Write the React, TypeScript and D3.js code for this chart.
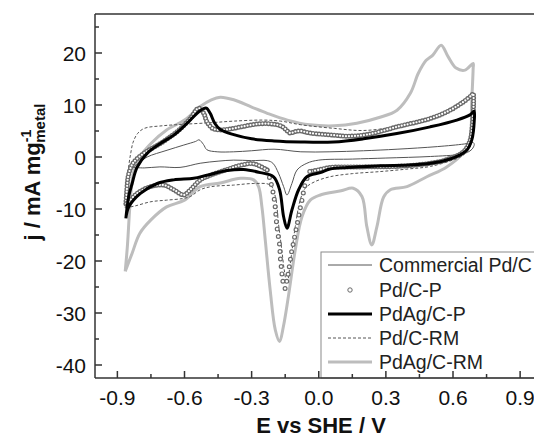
import React from "react";
import * as d3 from "d3";

// ---- data (E vs SHE / V, j / mA mg-1) ----
const xMajorTicks = [-0.9, -0.6, -0.3, 0.0, 0.3, 0.6, 0.9];
const xTickLabels = ["-0.9", "-0.6", "-0.3", "0.0", "0.3", "0.6", "0.9"];
const xMinorTicks = [-0.75, -0.45, -0.15, 0.15, 0.45, 0.75];
const yMajorTicks = [-40, -30, -20, -10, 0, 10, 20];
const yTickLabels = ["-40", "-30", "-20", "-10", "0", "10", "20"];
const yMinorTicks = [-35, -25, -15, -5, 5, 15, 25];

const seriesNames = ["Commercial Pd/C", "Pd/C-P", "PdAg/C-P", "Pd/C-RM", "PdAg/C-RM"];

const commercialPdC: [number, number][] = [
  [-0.83, -2.0], [-0.8, -1.0], [-0.767, 0], [-0.678, 1.3], [-0.603, 2.3], [-0.55, 3.0], [-0.535, 3.3],
  [-0.515, 2.4], [-0.5, 1.4], [-0.454, 1.0], [-0.38, 1.0], [-0.3, 1.2], [-0.2, 1.5], [-0.08, 1.0],
  [0.05, 1.0], [0.2, 1.2], [0.35, 1.5], [0.53, 2.0], [0.65, 2.5], [0.69, 2.8],
  [0.695, 2.4], [0.685, 1.5], [0.665, 0.9], [0.63, 0.5], [0.5, 0.1], [0.3, -0.2], [0.15, -0.4],
  [0.0, -0.6], [-0.053, -1.2], [-0.097, -2.5], [-0.12, -5.1], [-0.142, -7.3], [-0.157, -5.7],
  [-0.18, -3.1], [-0.205, -1.2], [-0.23, -0.7], [-0.3, -0.7], [-0.38, -0.6], [-0.45, -0.8],
  [-0.53, -1.2], [-0.62, -2.0], [-0.71, -1.9], [-0.78, -2.1], [-0.83, -2.0],
];

const pdCP: [number, number][] = [
  [-0.862, -9], [-0.858, -6.5], [-0.852, -3.8], [-0.84, -2], [-0.827, -1.0], [-0.782, 0.7],
  [-0.708, 2.6], [-0.633, 4.9], [-0.574, 7.4], [-0.537, 9.4], [-0.514, 8.4], [-0.5, 6.8],
  [-0.47, 5.4], [-0.41, 5.3], [-0.336, 5.9], [-0.261, 6.4], [-0.2, 6.3], [-0.165, 5.9],
  [-0.15, 5.4], [-0.127, 4.6], [-0.105, 4.9], [-0.083, 5.0], [-0.038, 4.6], [0.066, 4.2],
  [0.126, 4.0], [0.215, 4.3], [0.349, 5.8], [0.498, 7.4], [0.587, 9], [0.646, 10.6],
  [0.684, 11.9], [0.69, 12.2],
  [0.692, 10.5], [0.688, 7], [0.675, 3], [0.646, 1.0], [0.572, -0.5], [0.498, -1.2],
  [0.349, -1.8], [0.2, -1.9], [0.052, -2.0], [0.007, -2.4], [-0.04, -2.8],
  [-0.06, -5.1], [-0.068, -6.7], [-0.075, -8.3], [-0.083, -9.9], [-0.09, -11.5], [-0.097, -13.1],
  [-0.105, -14.7], [-0.112, -16.3], [-0.12, -17.9], [-0.127, -19.8], [-0.135, -22], [-0.142, -23.7],
  [-0.15, -25.3], [-0.157, -24.6], [-0.163, -23], [-0.167, -21.4], [-0.172, -19.2], [-0.175, -16.9],
  [-0.184, -14.4], [-0.19, -12.1], [-0.194, -9.9], [-0.202, -7.3],
  [-0.217, -4.4], [-0.231, -2.5], [-0.291, -1.3], [-0.35, -1.6], [-0.41, -2.4], [-0.484, -3.5],
  [-0.529, -4.4], [-0.574, -6.3], [-0.603, -7.3], [-0.648, -6.3], [-0.693, -5.4], [-0.752, -5.7],
  [-0.812, -7.0], [-0.849, -8.6], [-0.862, -9],
];

const pdAgCP: [number, number][] = [
  [-0.862, -11.8], [-0.856, -9.5], [-0.849, -7.5], [-0.834, -5.1], [-0.812, -2.0], [-0.767, 0.7],
  [-0.708, 2.6], [-0.648, 4.2], [-0.588, 6.5], [-0.544, 8.4], [-0.515, 9.3], [-0.502, 9.4],
  [-0.485, 8.4], [-0.465, 6.5], [-0.44, 5.3], [-0.38, 4.3], [-0.3, 3.5], [-0.2, 3.1], [-0.08, 2.9],
  [0.066, 2.9], [0.2, 3.5], [0.349, 4.5], [0.498, 5.8], [0.617, 7.1], [0.676, 8.1], [0.694, 8.8],
  [0.695, 7.0], [0.684, 3.3], [0.661, 1.3], [0.617, 0.1], [0.542, -0.9], [0.423, -1.5],
  [0.275, -1.7], [0.126, -2.0], [0.05, -2.3], [0.007, -3.0], [-0.053, -3.8], [-0.09, -6.3],
  [-0.12, -10.2], [-0.142, -13.7], [-0.157, -11.5], [-0.175, -6.3], [-0.202, -3.8], [-0.261, -3.0],
  [-0.336, -2.4], [-0.41, -2.6], [-0.5, -3.5], [-0.559, -4.1], [-0.648, -4.4], [-0.722, -5.1],
  [-0.797, -7.0], [-0.849, -9.6], [-0.862, -11.8],
];

const pdCRM: [number, number][] = [
  [-0.865, -9.8], [-0.858, -6], [-0.85, -2], [-0.84, 0.8], [-0.83, 2.8], [-0.81, 4.5], [-0.78, 5.5],
  [-0.7, 6.0], [-0.6, 6.3], [-0.48, 6.6], [-0.38, 6.9], [-0.25, 7.1], [-0.17, 6.9], [-0.08, 6.2],
  [0.07, 5.5], [0.2, 5.1], [0.35, 5.9], [0.5, 7.6], [0.59, 9.3], [0.646, 10.9], [0.69, 12.3],
  [0.69, 11], [0.685, 7], [0.676, 2], [0.65, 0.5], [0.617, -0.3], [0.5, -1.8], [0.4, -2.3],
  [0.275, -2.8], [0.15, -3.2], [0.05, -3.8], [-0.02, -4.8], [-0.06, -6.0], [-0.083, -8.3],
  [-0.105, -13.4], [-0.127, -20.4], [-0.142, -24.3], [-0.155, -21.5], [-0.165, -17.9], [-0.18, -12.8],
  [-0.194, -7.6], [-0.217, -5.4], [-0.29, -5.1], [-0.38, -5.4], [-0.48, -5.7], [-0.53, -6.3],
  [-0.574, -7.6], [-0.61, -8.0], [-0.68, -8.3], [-0.75, -8.6], [-0.82, -9.4], [-0.865, -9.8],
];

const pdAgCRM: [number, number][] = [
  [-0.865, -22], [-0.855, -17], [-0.845, -10], [-0.835, -5], [-0.825, -2.5], [-0.8, 0], [-0.75, 2.6],
  [-0.68, 5.2], [-0.6, 7.1], [-0.53, 9.7], [-0.48, 11], [-0.44, 11.5], [-0.38, 11], [-0.3, 9.6],
  [-0.23, 8.4], [-0.14, 7.1], [-0.04, 6.2], [0.07, 6.0], [0.17, 6.5], [0.27, 7.6], [0.35, 9],
  [0.41, 12.3], [0.445, 16.1], [0.48, 18.6], [0.51, 19.6], [0.547, 21.5], [0.578, 19.3],
  [0.614, 17.1], [0.654, 16.7], [0.69, 18],
  [0.69, 17], [0.683, 10], [0.676, 3.3], [0.646, 0.8], [0.572, -1.9], [0.483, -3.8], [0.394, -5.7],
  [0.32, -6.3], [0.29, -7.7], [0.26, -13.4], [0.237, -16.9], [0.215, -13.4], [0.193, -7.6],
  [0.154, -6], [0.1, -6.5], [0.007, -7.3], [-0.038, -8.3], [-0.075, -11.5], [-0.105, -17.9],
  [-0.136, -26.9], [-0.158, -32.6], [-0.175, -35.5], [-0.194, -33.3], [-0.217, -25.6], [-0.239, -16],
  [-0.254, -9.6], [-0.269, -5.7], [-0.291, -4.4], [-0.35, -4.1], [-0.44, -5], [-0.53, -5.7],
  [-0.6, -8.3], [-0.68, -9.6], [-0.75, -12.1], [-0.8, -14.7], [-0.834, -18.5], [-0.865, -22],
];

// ---- layout ----
const W = 534;
const H = 438;
const plotLeft = 95;
const plotTop = 14;
const plotBottom = 378;
const xScale = d3.scaleLinear().domain([-1, 1]).range([plotLeft, 542.5]);
const yScale = d3.scaleLinear().domain([-42.5, 27.5]).range([plotBottom, plotTop]);

const lineGen = d3
  .line<[number, number]>()
  .x((d) => xScale(d[0]))
  .y((d) => yScale(d[1]))
  .curve(d3.curveCatmullRom.alpha(0.5));

const FONT = "'Liberation Sans', Arial, Helvetica, sans-serif";

function splitDip(data: [number, number][]) {
  const inDip = (d: [number, number]) => d[1] < -4 && d[0] > -0.25 && d[0] < 0;
  const s = data.findIndex(inDip);
  let e = -1;
  data.forEach((d, i) => {
    if (inDip(d)) e = i;
  });
  return {
    dense1: data.slice(0, s),
    sparse: data.slice(s - 1, e + 2),
    dense2: data.slice(e + 1),
  };
}

const RingPath = ({ d, gap, inner }: { d: string; gap: number; inner: number }) => (
  <g>
    <path d={d} fill="none" stroke="#6a6a6a" strokeWidth={5} strokeLinecap="round" strokeDasharray={`0 ${gap}`} />
    <path d={d} fill="none" stroke="#ffffff" strokeWidth={inner} strokeLinecap="round" strokeDasharray={`0 ${gap}`} />
  </g>
);

export default function App() {
  const parts = splitDip(pdCP);
  const legendY = [265, 290, 314, 338, 362];
  const lx0 = 328;
  const lx1 = 372;
  return (
    <svg
      width={W}
      height={H}
      style={{ position: "absolute", left: 0, top: 0, background: "#fff" }}
      fontFamily={FONT}
    >
      <rect x={0} y={0} width={W} height={H} fill="#fff" />
      {/* curves */}
      <path d={lineGen(pdAgCRM) || ""} fill="none" stroke="#bdbdbd" strokeWidth={3} strokeLinejoin="round" />
      <path d={lineGen(commercialPdC) || ""} fill="none" stroke="#555" strokeWidth={1} />
      <path d={lineGen(pdCRM) || ""} fill="none" stroke="#555" strokeWidth={1} strokeDasharray="3 2" />
      <RingPath d={lineGen(parts.dense1) || ""} gap={3} inner={2.2} />
      <RingPath d={lineGen(parts.sparse) || ""} gap={7.5} inner={2.6} />
      <RingPath d={lineGen(parts.dense2) || ""} gap={3} inner={2.2} />
      <path d={lineGen(pdAgCP) || ""} fill="none" stroke="#000" strokeWidth={3} strokeLinejoin="round" />

      {/* legend */}
      <rect x={321} y={252} width={240} height={plotBottom - 252} fill="#fff" stroke="#8a8a8a" strokeWidth={1} />
      <line x1={lx0} x2={lx1} y1={legendY[0]} y2={legendY[0]} stroke="#555" strokeWidth={1} />
      <circle cx={(lx0 + lx1) / 2} cy={legendY[1]} r={2.2} fill="#fff" stroke="#6a6a6a" strokeWidth={1} />
      <line x1={lx0} x2={lx1} y1={legendY[2]} y2={legendY[2]} stroke="#000" strokeWidth={3} />
      <line x1={lx0} x2={lx1} y1={legendY[3]} y2={legendY[3]} stroke="#555" strokeWidth={1} strokeDasharray="3 2" />
      <line x1={lx0} x2={lx1} y1={legendY[4]} y2={legendY[4]} stroke="#bdbdbd" strokeWidth={3} />
      {seriesNames.map((n, i) => (
        <text key={n} x={379} y={legendY[i]} dy="0.35em" fontSize={19.5} fill="#222">
          {n}
        </text>
      ))}

      {/* axes frame */}
      <line x1={plotLeft} x2={W} y1={plotTop} y2={plotTop} stroke="#333" strokeWidth={1.5} />
      <line x1={plotLeft} x2={W} y1={plotBottom} y2={plotBottom} stroke="#333" strokeWidth={1.5} />
      <line x1={plotLeft} x2={plotLeft} y1={plotTop} y2={plotBottom} stroke="#333" strokeWidth={1.5} />

      {xMajorTicks.map((t, i) => (
        <g key={"xm" + t}>
          <line x1={xScale(t)} x2={xScale(t)} y1={plotBottom} y2={plotBottom - 7} stroke="#333" strokeWidth={1.5} />
          <text x={xScale(t)} y={405} textAnchor="middle" fontSize={21} fill="#111">
            {xTickLabels[i]}
          </text>
        </g>
      ))}
      {xMinorTicks.map((t) => (
        <line key={"xn" + t} x1={xScale(t)} x2={xScale(t)} y1={plotBottom} y2={plotBottom - 4} stroke="#333" strokeWidth={1.5} />
      ))}
      {yMajorTicks.map((t, i) => (
        <g key={"ym" + t}>
          <line x1={plotLeft} x2={plotLeft + 7} y1={yScale(t)} y2={yScale(t)} stroke="#333" strokeWidth={1.5} />
          <text x={86} y={yScale(t)} dy="0.36em" textAnchor="end" fontSize={21} fill="#111">
            {yTickLabels[i]}
          </text>
        </g>
      ))}
      {yMinorTicks.map((t) => (
        <line key={"yn" + t} x1={plotLeft} x2={plotLeft + 4} y1={yScale(t)} y2={yScale(t)} stroke="#333" strokeWidth={1.5} />
      ))}

      {/* axis titles */}
      <text x={321} y={433} textAnchor="middle" fontSize={22} fontWeight="bold" fill="#111">
        E vs SHE / V
      </text>
      <text transform="translate(40,172) rotate(-90)" textAnchor="middle" fontSize={22} fontWeight="bold" fill="#111">
        j / mA mg
        <tspan fontSize={14} dy={-9}>-1</tspan>
        <tspan fontSize={15} dx={-13} dy={14}>metal</tspan>
      </text>
    </svg>
  );
}
